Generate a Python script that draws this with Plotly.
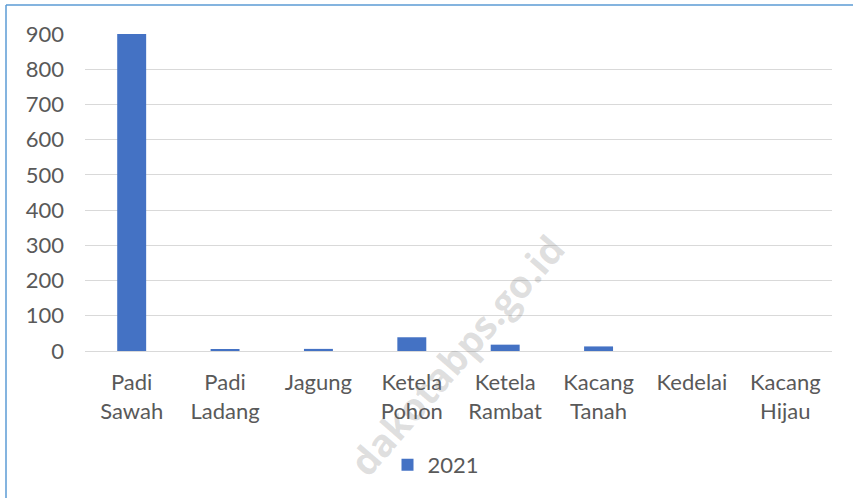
import plotly.graph_objects as go

categories = ["Padi<br>Sawah", "Padi<br>Ladang", "Jagung", "Ketela<br>Pohon",
              "Ketela<br>Rambat", "Kacang<br>Tanah", "Kedelai", "Kacang<br>Hijau"]
values_2021 = [900, 3, 6, 39, 18, 13, 0, 0]
y_ticks = [0, 100, 200, 300, 400, 500, 600, 700, 800, 900]
series_name = "2021"

W, H = 853, 498
ML, MR, MT, MB = 85, 21, 34, 147
pw, ph = W - ML - MR, H - MT - MB

def px_x(x):
    return (x - ML) / pw

def px_y(y):
    return (H - MB - y) / ph

FONT = "Lato"
GREY = "#595959"
FS = 22

fig = go.Figure()
fig.add_trace(go.Bar(x=categories, y=values_2021, name=series_name,
                     marker=dict(color="#4472C4", line=dict(width=0))))

fig.update_layout(
    width=W, height=H,
    margin=dict(l=ML, r=MR, t=MT, b=MB, pad=0, autoexpand=False),
    paper_bgcolor="white", plot_bgcolor="white",
    bargap=0.69,
    font=dict(family=FONT, size=FS, color=GREY),
    showlegend=True,
    legend=dict(orientation="h", x=px_x(436), xanchor="center",
                y=px_y(465), yanchor="middle",
                font=dict(family=FONT, size=FS, color=GREY),
                itemwidth=30),
    xaxis=dict(showgrid=False, showline=False, ticks="",
               tickfont=dict(family=FONT, size=FS, color=GREY),
               ticklabelstandoff=16),
    yaxis=dict(range=[0, 900], tickvals=y_ticks, showgrid=True,
               gridcolor="#D9D9D9", gridwidth=1.3, zeroline=True,
               zerolinecolor="#D9D9D9", zerolinewidth=1.3, showline=False,
               ticks="", tickfont=dict(family=FONT, size=FS, color=GREY),
               ticklabelstandoff=20),
    shapes=[
        dict(type="line", xref="paper", yref="paper",
             x0=px_x(6), x1=px_x(870), y0=px_y(5), y1=px_y(5),
             line=dict(color="#5B9BD5", width=1.5)),
        dict(type="line", xref="paper", yref="paper",
             x0=px_x(6), x1=px_x(6), y0=px_y(5), y1=px_y(520),
             line=dict(color="#5B9BD5", width=1.5)),
    ],
    annotations=[
        dict(text="<b>dakotabps.go.id</b>", xref="paper", yref="paper",
             x=px_x(456), y=px_y(355), xanchor="center", yanchor="middle",
             textangle=-49, showarrow=False,
             font=dict(family="Open Sans", size=38, color="rgba(110,110,110,0.22)")),
    ],
)

fig.write_html("out.html", config={"displayModeBar": False},
               post_script="document.body.style.margin='0';document.body.style.overflow='hidden';")
